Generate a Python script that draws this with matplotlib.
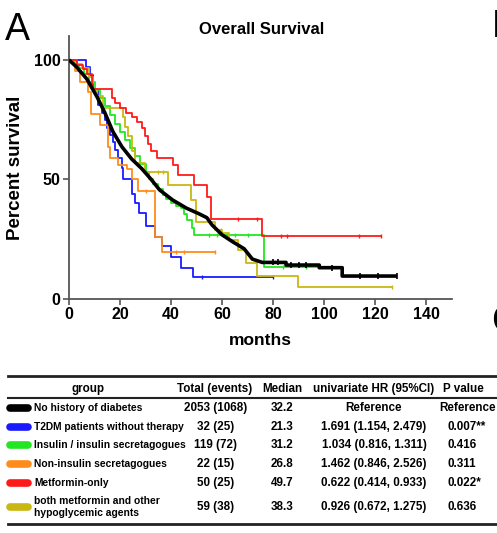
import numpy as np
import matplotlib
matplotlib.use('Agg')
import matplotlib.pyplot as plt

plt.rcParams['font.family'] = ['Liberation Sans', 'DejaVu Sans']

# Kaplan-Meier curves (months, percent survival)
black_t = [0, 3, 7, 11, 14, 17.2, 20.7, 24.5, 28.5, 32.2, 35.5, 40.6, 46, 51, 54, 56, 60, 64, 68.6, 71.8, 75.7,
           85, 85, 98, 98, 107, 107, 128.4]
black_s = [100, 97, 92, 84.5, 78, 70, 63.7, 58.6, 54.5, 50, 45.6, 41.4, 38, 35.6, 34, 31, 26.8, 24, 21, 16.7, 15.3,
           15.3, 14.2, 14.2, 13.1, 13.1, 9.6, 9.6]
black_c = [80, 82, 87, 90, 93, 103, 114, 121, 128.4]

blue_t = [0, 6.6, 8.2, 9.5, 11.3, 12.9, 14, 14.8, 16, 17.2, 18, 19, 20.7, 21, 24.5, 25.7, 27.4, 30.3, 33.6,
          36.4, 40, 43.7, 48.5, 79.7]
blue_s = [100, 96.9, 93.8, 87.5, 81, 78, 75, 71.5, 68.8, 65.6, 62.5, 59, 55, 50, 44, 40, 36, 30.5, 26, 22,
          17.5, 13, 9, 9]
blue_c = [52, 79.7]

green_t = [0, 2, 4, 6, 8, 10, 12, 14, 16, 18, 20, 22, 24, 26, 28, 30, 31.2, 33, 35, 36.7, 38, 40, 42, 44, 45,
           46.4, 48, 49, 76.4, 100]
green_s = [100, 98.3, 96.6, 94, 90.8, 87.4, 84, 80.7, 77, 73, 69.7, 66.4, 63, 59.7, 56.3, 53, 50, 48, 46, 43.5,
           42, 40, 39, 38, 35.6, 33, 29.5, 26.8, 13.4, 13.4]
green_c = [55, 58, 62, 65, 70, 84, 93]

orange_t = [0, 2.3, 4.3, 7.5, 8.5, 12, 15.3, 16, 19, 22.6, 24.6, 27, 33.5, 36.4, 57]
orange_s = [100, 95.5, 90.9, 86.4, 77.3, 72.7, 63.6, 59.1, 56, 54.5, 50, 45, 26, 19.7, 19.7]
orange_c = [30, 42, 45, 57]

red_t = [0, 3, 5.5, 7, 9, 9.5, 16.7, 18, 20, 22.5, 24.5, 26.5, 28.4, 29.6, 30.8, 32.3, 34.3, 40.6, 42.5, 49,
         54, 55.6, 75.7, 122]
red_s = [100, 98, 96, 94, 90, 88, 84, 82, 80, 78, 76, 74, 71.5, 68, 65, 62, 59, 56, 52, 47.7, 42.7, 33.5,
         26.4, 26.4]
red_c = [66, 73.8, 83, 85.5, 113.5, 122]

yellow_t = [0, 3, 5, 8, 9.5, 11, 13.5, 21, 22, 23, 24.5, 25.7, 29.6, 38.6, 47.8, 49.8, 57, 60, 62.8, 66, 69.4,
            73.8, 89.5, 126.5]
yellow_s = [100, 98.3, 96.6, 93, 88, 85, 80, 76, 72, 68, 62, 57, 53, 47.7, 41.4, 32.4, 29, 27.5, 24.7, 20.5,
            15, 9.8, 5.2, 5.2]
yellow_c = [35, 37, 59.6, 126.5]

# table
groups = ['No history of diabetes', 'T2DM patients without therapy', 'Insulin / insulin secretagogues',
          'Non-insulin secretagogues', 'Metformin-only', 'both metformin and other\nhypoglycemic agents']
totals = ['2053 (1068)', '32 (25)', '119 (72)', '22 (15)', '50 (25)', '59 (38)']
medians = ['32.2', '21.3', '31.2', '26.8', '49.7', '38.3']
hrs = ['Reference', '1.691 (1.154, 2.479)', '1.034 (0.816, 1.311)', '1.462 (0.846, 2.526)',
       '0.622 (0.414, 0.933)', '0.926 (0.672, 1.275)']
pvals = ['Reference', '0.007**', '0.416', '0.311', '0.022*', '0.636']

colors = ['black', '#1a1aff', '#22e622', '#ff8c1a', '#ff1a1a', '#c9b812']

W, H = 497, 533
fig = plt.figure(figsize=(W / 100, H / 100), dpi=100)

def fx(x):
    return x / W

def fy(y):
    return 1 - y / H

ax = fig.add_axes([fx(69), fy(299), (452 - 69) / W, (299 - 36) / H])

def step_val(t, s, c):
    t = np.array(t)
    i = np.searchsorted(t, c, side='right') - 1
    return np.array(s)[i]

curves = [(blue_t, blue_s, blue_c, colors[1]), (orange_t, orange_s, orange_c, colors[3]),
          (green_t, green_s, green_c, colors[2]), (yellow_t, yellow_s, yellow_c, colors[5]),
          (red_t, red_s, red_c, colors[4])]
for t, s, c, col in curves:
    ax.step(t, s, where='post', color=col, lw=1.3, zorder=2)
    ax.plot(c, step_val(t, s, c), '|', color=col, ms=3.5, mew=1.0, zorder=2)

ax.plot(black_t, black_s, color='black', lw=2.6, zorder=3, solid_capstyle='butt')
ax.plot(black_c, np.interp(black_c, black_t, black_s), '|', color='black', ms=4, mew=1.2, zorder=3)

ax.set_xlim(0, 150)
ax.set_ylim(0, 110)
ax.set_xticks([0, 20, 40, 60, 80, 100, 120, 140])
ax.set_yticks([0, 50, 100])
for sp in ['top', 'right']:
    ax.spines[sp].set_visible(False)
for sp in ['left', 'bottom']:
    ax.spines[sp].set_color('#555555')
    ax.spines[sp].set_linewidth(1.3)
ax.tick_params(direction='out', length=4, width=1.2, color='#555555', labelsize=11.5, pad=2)
for lab in ax.get_xticklabels() + ax.get_yticklabels():
    lab.set_fontweight('bold')
ax.set_xlabel('months', fontsize=12.5, fontweight='bold', labelpad=8)
ax.set_ylabel('Percent survival', fontsize=13.5, fontweight='bold')
ax.yaxis.set_label_coords((24 - 69) / 383, (299 - 168) / 263)

fig.text(fx(262), fy(29), 'Overall Survival', fontsize=12, fontweight='bold', ha='center', va='center')
fig.text(fx(5), fy(30), 'A', fontsize=27, ha='left', va='center')
fig.text(fx(492), fy(27), 'B', fontsize=27, ha='left', va='center')
fig.text(fx(491), fy(322), 'C', fontsize=27, ha='left', va='center')

# table drawing
fig.add_artist(plt.Line2D([fx(8), 1], [fy(376), fy(376)], color='#222222', lw=2.0))
fig.add_artist(plt.Line2D([fx(8), 1], [fy(398), fy(398)], color='#222222', lw=1.5))
fig.add_artist(plt.Line2D([fx(8), 1], [fy(524), fy(524)], color='#222222', lw=2.0))

fs_g = 7.4
fs = 8.4
hy = fy(389)
fig.text(fx(88), hy, 'group', fontsize=fs, fontweight='bold', ha='center', va='center')
fig.text(fx(215), hy, 'Total (events)', fontsize=fs, fontweight='bold', ha='center', va='center')
fig.text(fx(282), hy, 'Median', fontsize=fs, fontweight='bold', ha='center', va='center')
fig.text(fx(374), hy, 'univariate HR (95%CI)', fontsize=fs, fontweight='bold', ha='center', va='center')
fig.text(fx(463), hy, 'P value', fontsize=fs, fontweight='bold', ha='center', va='center')

row_y = [408, 427, 445, 464, 483, 507]
for i in range(len(groups)):
    y = fy(row_y[i])
    fig.add_artist(plt.Line2D([fx(10), fx(28)], [y, y], color=colors[i], lw=5.5,
                              solid_capstyle='round'))
    fig.text(fx(34), y, groups[i], fontsize=fs_g, fontweight='bold', ha='left', va='center',
             linespacing=1.35)
    fig.text(fx(216), y, totals[i], fontsize=fs, fontweight='bold', ha='center', va='center')
    fig.text(fx(282), y, medians[i], fontsize=fs, fontweight='bold', ha='center', va='center')
    fig.text(fx(374), y, hrs[i], fontsize=fs, fontweight='bold', ha='center', va='center')
    if pvals[i] == 'Reference':
        fig.text(fx(439), y, pvals[i], fontsize=fs, fontweight='bold', ha='left', va='center')
    else:
        fig.text(fx(448), y, pvals[i], fontsize=fs, fontweight='bold', ha='left', va='center')

fig.savefig('out.png', dpi=100)
